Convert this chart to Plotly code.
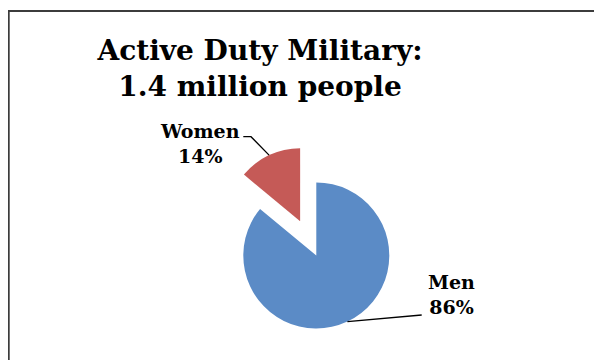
import math
import plotly.graph_objects as go

# ---- data ----
categories = ["Men", "Women"]
shares = [86, 14]          # percent of active duty personnel
title_lines = ["Active Duty Military:", "1.4 million people"]

# ---- layout constants (screen pixels; the page body adds an 8px margin) ----
OFF = 8
W, H = 602 - OFF, 360 - OFF
colors = {"Men": "#5B8BC6", "Women": "#C55A57"}
CX, CY, R = 316.3, 255.5, 73.0
PULL = {"Men": 0.0, "Women": 0.52}
label_pos = {"Men": (451, 294.2), "Women": (200, 143.4)}
leader_start = {"Men": [(421.7, 315.0)], "Women": [(243.3, 136.7), (251.0, 136.7)]}
FONT = "DejaVu Serif"


def px(x):
    return (x - OFF) / W


def py(y):
    return 1 - (y - OFF) / H


total = float(sum(shares))
mids = {}
acc = 0.0
for c, v in zip(categories, shares):
    mids[c] = (acc + v / 2.0) / total * 2 * math.pi
    acc += v


def unit(a):
    return math.sin(a), -math.cos(a)


fig = go.Figure()
shapes = []
annotations = []
for c, v in zip(categories, shares):
    ux, uy = unit(mids[c])
    cx = CX + PULL[c] * R * ux
    cy = CY + PULL[c] * R * uy
    fig.add_trace(go.Pie(
        labels=categories,
        values=shares,
        sort=False,
        direction="clockwise",
        rotation=0,
        textinfo="none",
        hoverinfo="label+percent",
        showlegend=False,
        marker=dict(colors=[colors[k] if k == c else "rgba(0,0,0,0)" for k in categories],
                    line=dict(width=0)),
        domain=dict(x=[px(cx - R), px(cx + R)], y=[py(cy + R), py(cy - R)]),
    ))
    ex, ey = cx + R * ux, cy + R * uy
    pts = leader_start[c] + [(ex, ey)]
    path = "M " + " L ".join(f"{px(a)},{py(b)}" for a, b in pts)
    shapes.append(dict(type="path", xref="paper", yref="paper", path=path,
                       line=dict(color="black", width=1.3)))
    lx, ly = label_pos[c]
    annotations.append(dict(
        x=px(lx), y=py(ly), xref="paper", yref="paper", xanchor="center", yanchor="middle",
        text=f"<b>{c}<br>{v}%</b>", showarrow=False, align="center",
        font=dict(family=FONT, size=19, color="black"),
    ))

# chart frame (top and left edges visible)
shapes.append(dict(type="path", xref="paper", yref="paper",
                   path=f"M {px(8.7)},{py(365)} L {px(8.7)},{py(11)} L {px(610)},{py(11)}",
                   line=dict(color="#3c3c3c", width=2)))

fig.update_layout(
    width=W, height=H,
    margin=dict(l=0, r=0, t=0, b=0),
    paper_bgcolor="white", plot_bgcolor="white",
    title=dict(text="<b>" + "<br>".join(title_lines) + "</b>",
               x=px(260), xanchor="center", y=py(59.5), yanchor="middle",
               yref="container",
               font=dict(family=FONT, size=28, color="black")),
    shapes=shapes,
    annotations=annotations,
)

fig.write_html("out.html")
